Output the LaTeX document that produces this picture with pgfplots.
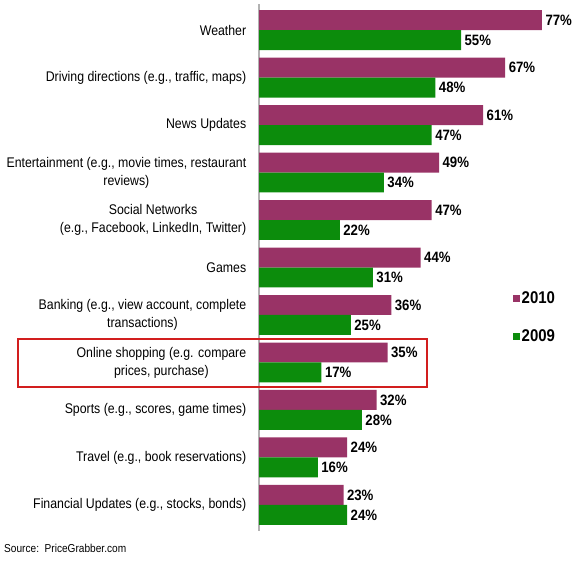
\documentclass[border=0pt]{standalone}
\usepackage{pgfplots}
\pgfplotsset{compat=1.18}
\usepackage{fontspec}
\setmainfont{Liberation Sans}[FakeStretch=0.88]
\definecolor{c2010}{RGB}{153,51,102}
\definecolor{c2009}{RGB}{12,140,12}
\definecolor{boxred}{RGB}{210,30,30}
\begin{document}
\begin{tikzpicture}
\path[use as bounding box] (0pt,0pt) rectangle (573pt,560pt);
\begin{axis}[
 at={(259pt,29pt)}, anchor=south west,
 scale only axis, width=294pt, height=527pt,
 xmin=0, xmax=80, ymin=-0.55, ymax=10.55, y dir=reverse,
 xbar, bar width=0.42,
 axis x line=none, axis y line*=left,
 y axis line style={-, draw=black!30, line width=1.2pt},
 ytick={0,...,10},
 yticklabels={{Weather},{Driving directions (e.g., traffic, maps)},{News Updates},{Entertainment (e.g., movie times, restaurant\\reviews)},{Social Networks\\(e.g., Facebook, LinkedIn, Twitter)},{Games},{Banking (e.g., view account, complete\\transactions)},{Online shopping (e.g. compare\\prices, purchase)},{Sports (e.g., scores, game times)},{Travel (e.g., book reservations)},{Financial Updates (e.g., stocks, bonds)}},
 ytick style={draw=none},
 yticklabel style={align=center, font=\fontsize{14}{18}\selectfont, xshift=-5pt},
 xtick=\empty,
 point meta=x,
 /pgf/number format/assume math mode=true,
 nodes near coords={\pgfmathprintnumber{\pgfplotspointmeta}\%},
 nodes near coords style={font=\fontsize{15}{17}\selectfont\bfseries, anchor=west, xshift=0pt},
 legend style={draw=none, fill=none, at={(0.852,0.463)}, anchor=north west,
   font=\fontsize{17}{19}\selectfont\bfseries, row sep=21pt, cells={anchor=west}},
 legend image code/.code={\fill[#1] (0pt,-4pt) rectangle (7pt,3pt);},
 clip=false,
]
\addplot[fill=c2010, draw=none, bar shift=-0.21] coordinates {(77,0) (67,1) (61,2) (49,3) (47,4) (44,5) (36,6) (35,7) (32,8) (24,9) (23,10)};
\addplot[fill=c2009, draw=none, bar shift=0.21] coordinates {(55,0) (48,1) (47,2) (34,3) (22,4) (31,5) (25,6) (17,7) (28,8) (16,9) (24,10)};
\legend{2010,2009}
\end{axis}
\draw[boxred, line width=1.6pt] (18pt,173pt) rectangle (427pt,221pt);
\node[anchor=west, inner sep=0pt, font=\fontsize{11.5}{13}\selectfont] at (4pt,12pt) {Source:\ \ PriceGrabber.com};
\end{tikzpicture}
\end{document}
